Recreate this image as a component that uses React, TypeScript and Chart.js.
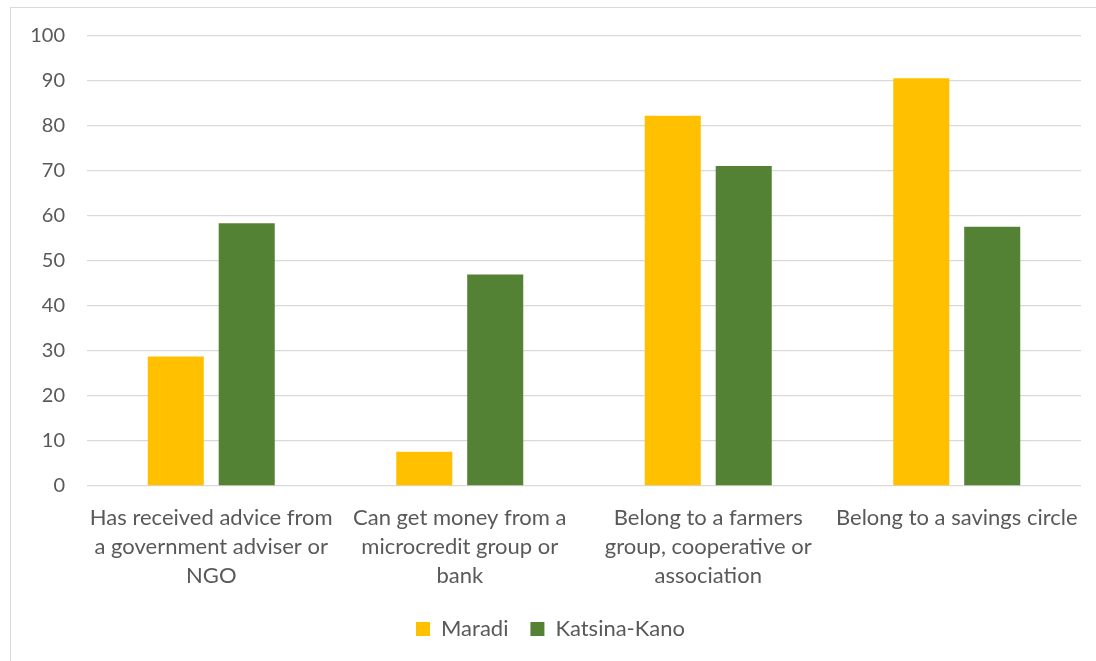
import React, { useEffect, useRef } from "react";
import { Chart, registerables } from "chart.js";

Chart.register(...registerables);

const categories: string[][] = [
  ["Has received advice from", "a government adviser or", "NGO"],
  ["Can get money from a", "microcredit group or", "bank"],
  ["Belong to a farmers", "group, cooperative or", "association"],
  ["Belong to a savings circle"],
];
const maradi: number[] = [28.8, 7.6, 82.3, 90.6];
const katsinaKano: number[] = [58.4, 47.0, 71.1, 57.6];
const yTicks: number[] = [0, 10, 20, 30, 40, 50, 60, 70, 80, 90, 100];

const FONT = "Lato, 'Open Sans', sans-serif";
const TEXT = "#595959";

export default function App() {
  const ref = useRef<HTMLCanvasElement | null>(null);
  useEffect(() => {
    if (!ref.current) return;
    const chart = new Chart(ref.current, {
      type: "bar",
      data: {
        labels: categories,
        datasets: [
          { label: "Maradi", data: maradi, backgroundColor: "#FFC000", categoryPercentage: 0.571, barPercentage: 0.79 },
          { label: "Katsina-Kano", data: katsinaKano, backgroundColor: "#548235", categoryPercentage: 0.571, barPercentage: 0.79 },
        ],
      },
      options: {
        animation: false,
        responsive: false,
        maintainAspectRatio: false,
        layout: { padding: { left: 20, right: 15, top: 36, bottom: 11 } },
        plugins: {
          tooltip: { enabled: false },
          legend: {
            position: "bottom",
            labels: {
              boxWidth: 14,
              boxHeight: 14,
              padding: 22,
              color: TEXT,
              font: { family: FONT, size: 22 },
            },
          },
        },
        scales: {
          x: {
            grid: { display: false },
            border: { display: false },
            ticks: {
              color: TEXT,
              font: { family: FONT, size: 22, lineHeight: 1.3 },
              padding: 10,
              maxRotation: 0,
              autoSkip: false,
            },
            afterFit: (s: any) => { s.height = 110; },
          },
          y: {
            min: 0,
            max: 100,
            afterBuildTicks: (s: any) => { s.ticks = yTicks.map((v) => ({ value: v })); },
            grid: { color: "#d9d9d9", lineWidth: 1.3, drawTicks: false },
            border: { display: false },
            ticks: {
              color: TEXT,
              font: { family: FONT, size: 20 },
              padding: 22,
            },
            afterFit: (s: any) => { s.width = 67; },
          },
        },
      },
    });
    return () => chart.destroy();
  }, []);
  return (
    <div style={{ position: "fixed", left: 0, top: 0, width: 1096, height: 661, background: "#fff", overflow: "hidden" }}>
      <div style={{ position: "absolute", left: 10, top: 7, width: 1200, height: 800, border: "1.5px solid #d9d9d9" }} />
      <canvas ref={ref} width={1096} height={661} style={{ position: "absolute", left: 0, top: 0 }} />
    </div>
  );
}
